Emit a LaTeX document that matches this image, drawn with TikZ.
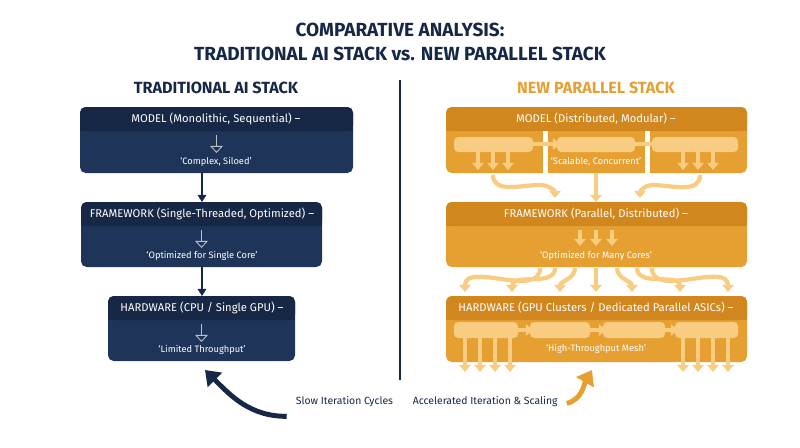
\documentclass[tikz,border=0pt]{standalone}
\usepackage{fontspec}
\setmainfont{Fira Sans}
\usetikzlibrary{positioning,arrows.meta}
\definecolor{navy}{RGB}{30,52,88}
\definecolor{navyhead}{RGB}{22,40,70}
\definecolor{amber}{RGB}{230,160,50}
\definecolor{amberhead}{RGB}{210,135,30}
\definecolor{amberlight}{RGB}{248,205,130}
\tikzset{
  head/.style={font=\fontsize{8}{9}\selectfont, text=white},
  sub/.style={font=\fontsize{6.6}{7}\selectfont, text=white},
  flow/.style={-{Triangle[length=5pt,width=6pt]}, line width=1.2pt},
  fat/.style={-{Triangle[length=5pt,width=8pt]}, line width=3pt, amberlight},
  bar/.style={fill=amberlight, rounded corners=3pt, draw=none}
}
\begin{document}
\begin{tikzpicture}[x=0.025cm, y=-0.025cm]
\useasboundingbox (0,0) rectangle (800,447);
% Titles
\node[font=\bfseries\fontsize{13.5}{17}\selectfont, text=navyhead, align=center] (title) at (400,42) {COMPARATIVE ANALYSIS:\\TRADITIONAL AI STACK vs. NEW PARALLEL STACK};
\node[font=\bfseries\fontsize{11.5}{13}\selectfont, text=navyhead] (ltitle) at (216,88) {TRADITIONAL AI STACK};
\node[font=\bfseries\fontsize{11.5}{13}\selectfont, text=amber] (rtitle) at (596,88) {NEW PARALLEL STACK};
\draw[navyhead, line width=1pt] (400,80) -- (400,380);

% Traditional stack
\foreach \nm/\xa/\xb/\ya/\yb in {lmod/80/353/107/173, lfw/81/322/202/267, lhw/108/295/296/361}{
  \fill[navy, rounded corners=4pt] (\xa,\ya) rectangle (\xb,\yb);
  \fill[navyhead, rounded corners=4pt] (\xa,\ya) rectangle (\xb,\ya+24);
  \fill[navyhead] (\xa,\ya+12) rectangle (\xb,\ya+24);
  \coordinate (\nm-t) at (202,\ya);
  \coordinate (\nm-b) at (202,\yb);
  \draw[white!70!navy, line width=0.6pt, -{Triangle[open,length=5pt,width=9pt]}] ({(\xa+\xb)/2},\ya+28) -- ({(\xa+\xb)/2},\ya+46);
}
\node[head] (lmodh) at (216,119) {MODEL (Monolithic, Sequential) --};
\node[sub] (lmods) at (216,162) {‘Complex, Siloed’};
\node[head] (lfwh) at (202,214) {FRAMEWORK (Single-Threaded, Optimized) --};
\node[sub] (lfws) at (202,256) {‘Optimized for Single Core’};
\node[head] (lhwh) at (202,308) {HARDWARE (CPU / Single GPU) --};
\node[sub] (lhws) at (202,350) {‘Limited Throughput’};
\draw[flow, navyhead] (lmod-b) -- (lfw-t);
\draw[flow, navyhead] (lfw-b) -- (lhw-t);

% Parallel stack
\foreach \nm/\ya/\yb in {rmod/107/173, rfw/202/267, rhw/296/362}{
  \fill[amber, rounded corners=4pt] (446,\ya) rectangle (747,\yb);
  \fill[amberhead, rounded corners=4pt] (446,\ya) rectangle (747,\ya+24);
  \fill[amberhead] (446,\ya+12) rectangle (747,\ya+24);
  \coordinate (\nm-t) at (596,\ya);
  \coordinate (\nm-b) at (596,\yb);
}
% model split into three modules
\fill[white] (543,131) rectangle (548,173);
\fill[white] (645,131) rectangle (650,173);
\fill[bar] (454,137) rectangle (533,152);
\fill[bar] (557,137) rectangle (635,152);
\fill[bar] (652,137) rectangle (738,152);
\draw[fat] (533,144) -- (560,144);
\draw[fat] (635,144) -- (665,144);
\foreach \x in {478,493,508,683,698,713} \draw[fat] (\x,152) -- (\x,170);
\node[head] (rmodh) at (596,119) {MODEL (Distributed, Modular) --};
\node[sub] (rmods) at (596,162) {‘Scalable, Concurrent’};
\draw[fat] (493,175) to[out=-90,in=180] (540,185) to[out=0,in=90] (555,198);
\draw[fat] (rmod-b) -- (rfw-t);
\draw[fat] (700,175) to[out=-90,in=0] (652,185) to[out=180,in=90] (640,198);
% framework
\node[head] (rfwh) at (596,214) {FRAMEWORK (Parallel, Distributed) --};
\foreach \x in {580,596,612} \draw[fat] (\x,230) -- (\x,246);
\node[sub] (rfws) at (596,256) {‘Optimized for Many Cores’};
\foreach \x/\sx in {465/540,512/555,560/575,596/596,632/617,680/637,728/652}
  \draw[fat] (\sx,268) to[out=-90,in=90] (\x,292);
% hardware
\node[head] (rhwh) at (596,308) {HARDWARE (GPU Clusters / Dedicated Parallel ASICs) --};
\foreach \xa/\xb in {454/518, 530/590, 603/665, 675/738} \fill[bar] (\xa,322) rectangle (\xb,338);
\draw[fat] (518,330) -- (533,330);
\draw[fat] (590,330) -- (606,330);
\draw[fat] (665,330) -- (678,330);
\foreach \x in {465,480,495,510,683,698,713,728} \draw[fat] (\x,338) -- (\x,372);
\node[sub] (rhws) at (596,349) {‘High-Throughput Mesh’};

% iteration arrows
\node[font=\fontsize{7.4}{9}\selectfont, text=navyhead, anchor=east] (slowl) at (398,402) {Slow Iteration Cycles};
\node[font=\fontsize{7.4}{9}\selectfont, text=navyhead, anchor=west] (fastl) at (408,402) {Accelerated Iteration \& Scaling};
\coordinate (slow) at ([xshift=-3pt,yshift=-3pt]slowl.south west);
\coordinate (fast) at ([xshift=3pt,yshift=-1pt]fastl.east);
\draw[navyhead, line width=3.5pt, -{Triangle[length=10pt,width=14pt]}] (slow) to[out=180,in=-45] (205,370);
\draw[amber, line width=3.5pt, -{Triangle[length=10pt,width=14pt]}] (fast) to[out=15,in=-120] (592,370);
\end{tikzpicture}
\end{document}
